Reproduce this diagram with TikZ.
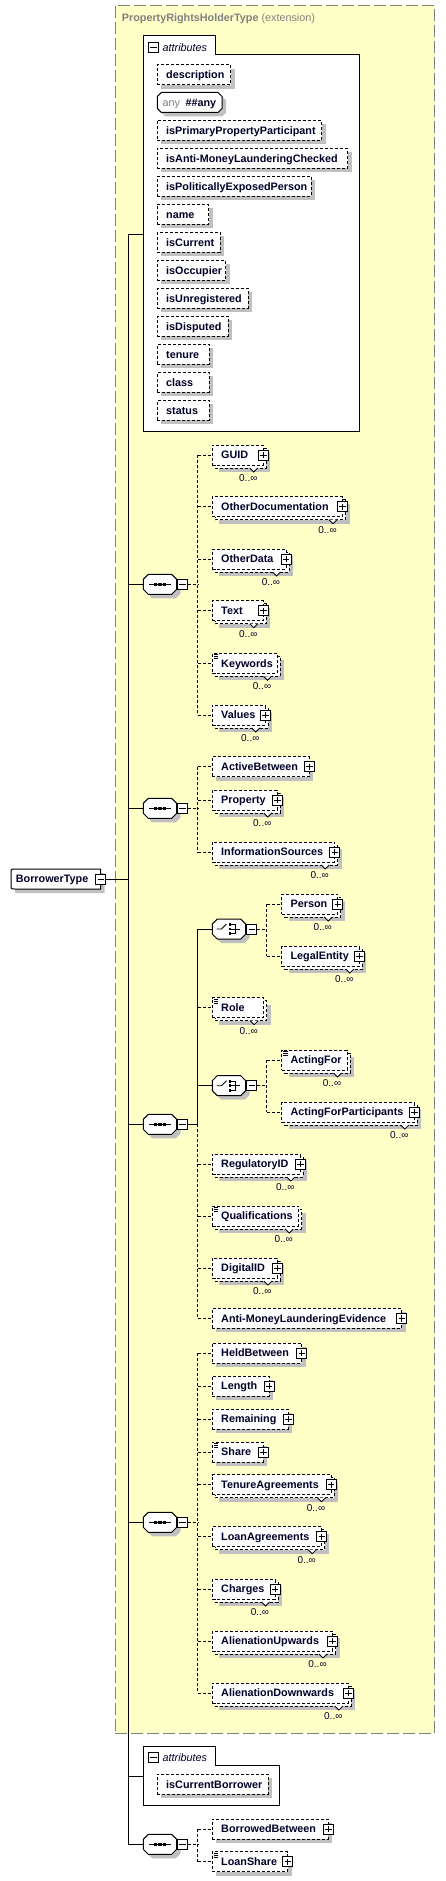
\documentclass[tikz,border=0pt]{standalone}
\usepackage{fontspec}
\setmainfont{Liberation Sans}
\usetikzlibrary{calc}
\definecolor{yel}{RGB}{255,255,200}
\definecolor{shad}{RGB}{192,192,192}
\definecolor{ttl}{RGB}{128,128,128}
\definecolor{nav}{RGB}{0,0,40}
\tikzset{
  ln/.style={line width=1pt,draw=black},
  dsh/.style={dash pattern=on 3pt off 2pt},
  dconn/.style={ln,dsh},
  ebx/.style={ln,dsh,fill=white,anchor=west,minimum height=20pt,inner sep=0pt,outer sep=0pt},
  lbl/.style={font=\fontsize{10.8}{12}\selectfont\bfseries,text=nav,inner sep=0pt,anchor=base west},
  multl/.style={font=\fontsize{10}{12}\selectfont,text=nav,inner sep=0pt,anchor=base},
  pmb/.style={draw,line width=0.8pt,fill=white,minimum size=10pt,inner sep=0pt,outer sep=0pt},
  hook/.style={inner sep=0pt,outer sep=0pt,minimum width=33.4pt,minimum height=20pt},
  ybox/.style={draw=ttl,line width=1pt,dash pattern=on 12pt off 4pt,fill=yel,inner sep=0pt,outer sep=0pt,anchor=north west},
}
\newcommand{\champ}[6]{\path[#1] ({#3+#2},{#4}) -- ({#5-#2},{#4}) -- ({#5},{#4+#2}) -- ({#5},{#6-#2}) -- ({#5-#2},{#6}) -- ({#3+#2},{#6}) -- ({#3},{#6-#2}) -- ({#3},{#4+#2}) -- cycle;}
\newcommand{\pbox}[2]{%
  \draw[line width=0.8pt,fill=white] ({#1-5},{#2-5}) rectangle ({#1+5},{#2+5});
  \draw[line width=0.8pt] ({#1-3.2},{#2}) -- ({#1+3.2},{#2}) ({#1},{#2-3.2}) -- ({#1},{#2+3.2});}
\newcommand{\mnbox}[3]{%
  \node[pmb] (#1) at ({#2},{#3}) {};
  \draw[line width=0.8pt] ({#2-3.2},{#3}) -- ({#2+3.2},{#3});}
\newcommand{\eboxs}[5]{%
  \pgfmathsetmacro\ew{#4-#2}%
  \fill[shad] ({#2+4},{#3-6}) rectangle ({#4+4},{#3+14});
  \node[ebx,minimum width=\ew pt] (#1) at (#2,#3) {};
  \node[lbl] at ({#2+8.7},{#3+3.9}) {#5};}
\newcommand{\eboxm}[5]{%
  \pgfmathsetmacro\ew{#4-#2}%
  \fill[shad] ({#2+7},{#3-3}) rectangle ({#4+7},{#3+17});
  \draw[ln,dsh,fill=white] ({#2+3},{#3-7}) rectangle ({#4+3},{#3+13});
  \draw[line width=0.8pt,fill=white] ({#4-13.5},{#3+13}) -- ({#4-9.5},{#3+17}) -- ({#4-5.5},{#3+13});
  \node[ebx,minimum width=\ew pt] (#1) at (#2,#3) {};
  \node[lbl] at ({#2+8.7},{#3+3.9}) {#5};
  \node[multl] at ({#4-15},{#3+26.5}) {0..∞};}
\newcommand{\eicon}[2]{\draw[line width=0.7pt] ({#1+1.5},{#2-8.5}) -- ({#1+6},{#2-8.5}) ({#1+1.5},{#2-6.5}) -- ({#1+6},{#2-6.5}) ({#1+1.5},{#2-4.5}) -- ({#1+6},{#2-4.5});}
\newcommand{\seqsym}[3]{%
  \champ{fill=shad}{5}{#2-12.7}{#3-6}{#2+20.7}{#3+14}
  \champ{ln,fill=white}{5}{#2-16.7}{#3-10}{#2+16.7}{#3+10}
  \node[hook] (#1) at (#2,#3) {};
  \draw[line width=0.8pt] ({#2-11},{#3}) -- ({#2+11},{#3});
  \foreach \dx in {-4.5,0,4.5} {\fill ({#2+\dx-1.6},{#3-1.6}) rectangle ({#2+\dx+1.6},{#3+1.6});}
  \mnbox{#1m}{#2+22.5}{#3}}
\newcommand{\chsym}[3]{%
  \champ{fill=shad}{5}{#2-12.7}{#3-6}{#2+20.7}{#3+14}
  \champ{ln,fill=white}{5}{#2-16.7}{#3-10}{#2+16.7}{#3+10}
  \node[hook] (#1) at (#2,#3) {};
  \draw[line width=0.8pt] ({#2-12.5},{#3}) -- ({#2-7.5},{#3}) -- ({#2-2.5},{#3-5});
  \foreach \dy in {-4.5,0,4.5} {\fill ({#2-0.5},{#3+\dy-1.4}) rectangle ({#2+2.3},{#3+\dy+1.4});}
  \draw[line width=0.8pt] ({#2+2.3},{#3-4.5}) -- ({#2+6.5},{#3-4.5}) -- ({#2+6.5},{#3+4.5}) -- ({#2+2.3},{#3+4.5}) ({#2+2.3},{#3}) -- ({#2+10.5},{#3});
  \mnbox{#1m}{#2+22.7}{#3}}
\newcommand{\attrhead}[2]{%
  \mnbox{#1}{153.3}{#2}
  \node[anchor=west,inner sep=0pt,font=\fontsize{10.8}{12}\selectfont\itshape,text=nav] at (162.5,{#2}) {attributes};}
\begin{document}
\begin{tikzpicture}[x=1pt,y=-1pt]
\useasboundingbox (0,0) rectangle (445,1881);
\fill[white] (0,0) rectangle (445,1881);
% extension box
\node[ybox,minimum width=319.4pt,minimum height=1728pt] (ext) at (115.3,5.3) {};
\node[anchor=base west,inner sep=0pt,text=ttl,font=\fontsize{10.8}{12}\selectfont] (title) at (121.7,22) {\textbf{PropertyRightsHolderType} (extension)};
% attributes 1
\draw[ln,fill=white] (143.3,36) -- (215,36) -- (215,55) -- (359.3,55) -- (359.3,431) -- (143.3,431) -- cycle;
\coordinate (a1) at (143.3,234.3);
\attrhead{a1m}{47.5}
\eboxs{description}{157.3}{75}{230.7}{description}
\champ{fill=shad}{4}{161.3}{96.5}{226}{116.5}
\champ{ln,fill=white}{4}{157.3}{92.5}{222}{112.5}
\node[inner sep=0pt,minimum width=64.7pt,minimum height=20pt,anchor=west] (any) at (157.3,102.5) {};
\node[lbl,font=\fontsize{10.8}{12}\selectfont,text=ttl] at (162.3,106.4) {any};
\node[lbl] at (185.3,106.4) {\#\#any};
\eboxs{isprim}{157.3}{130.3}{321.7}{isPrimaryPropertyParticipant}
\eboxs{isanti}{157.3}{158.3}{347.7}{isAnti-MoneyLaunderingChecked}
\eboxs{ispol}{157.3}{186.3}{311}{isPoliticallyExposedPerson}
\eboxs{name}{157.3}{214.3}{208.7}{name}
\eboxs{iscur}{157.3}{242.3}{220}{isCurrent}
\eboxs{isocc}{157.3}{270.3}{225.7}{isOccupier}
\eboxs{isunr}{157.3}{298.3}{248}{isUnregistered}
\eboxs{isdis}{157.3}{326.3}{228}{isDisputed}
\eboxs{tenure}{157.3}{354.3}{209}{tenure}
\eboxs{class}{157.3}{382.3}{209}{class}
\eboxs{status}{157.3}{410.3}{209}{status}
% root
\path[fill=shad] (104.7,873) -- (19,873) .. controls (15,873) .. (15,877) -- (15,889) .. controls (15,893) .. (19,893) -- (104.7,893) -- cycle;
\path[ln,fill=white] (100.7,869) -- (15,869) .. controls (11,869) .. (11,873) -- (11,885) .. controls (11,889) .. (15,889) -- (100.7,889) -- cycle;
\node[inner sep=0pt,minimum width=89.7pt,minimum height=20pt,anchor=west] (bt) at (11,879) {};
\node[lbl] at (15.7,882.9) {BorrowerType};
\mnbox{btm}{100.7}{879}
% sequence 1
\seqsym{s1}{160}{584.3}
\eboxm{guid}{212.3}{455}{263.3}{GUID}\pbox{263.3}{455}
\eboxm{otherdoc}{212.3}{506.7}{342.5}{OtherDocumentation}\pbox{342.5}{506.7}
\eboxm{otherdata}{212.3}{559}{286}{OtherData}\pbox{286}{559}
\eboxm{text}{212.3}{610.7}{263.3}{Text}\pbox{263.3}{610.7}
\eboxm{keywords}{212.3}{663.3}{277}{Keywords}\eicon{212.3}{663.3}
\eboxm{values}{212.3}{715}{265.3}{Values}\pbox{265.3}{715}
% sequence 2
\seqsym{s2}{160}{808.3}
\eboxs{activebetween}{212.3}{766.7}{309.3}{ActiveBetween}\pbox{309.3}{766.7}
\eboxm{property}{212.3}{800}{277.3}{Property}\pbox{277.3}{800}
\eboxm{infosrc}{212.3}{852}{334.7}{InformationSources}\pbox{334.7}{852}
% sequence 3
\seqsym{s3}{160}{1124.3}
\chsym{c1}{229}{929}
\eboxm{person}{281.7}{904}{337.7}{Person}\pbox{337.7}{904}
\eboxm{legal}{281.7}{956}{359.3}{LegalEntity}\pbox{359.3}{956}
\eboxm{role}{212.3}{1007.7}{263.7}{Role}\eicon{212.3}{1007.7}
\chsym{c2}{229}{1085.7}
\eboxm{actingfor}{281.7}{1060}{347}{ActingFor}\eicon{281.7}{1060}
\eboxm{actingforp}{281.7}{1112}{414.3}{ActingForParticipants}\pbox{414.3}{1112}
\eboxm{regid}{212.3}{1164}{300.3}{RegulatoryID}\pbox{300.3}{1164}
\eboxm{qual}{212.3}{1216}{298.7}{Qualifications}\eicon{212.3}{1216}
\eboxm{digid}{212.3}{1268}{277.3}{DigitalID}\pbox{277.3}{1268}
\eboxs{amle}{212.3}{1318.3}{401.7}{Anti-MoneyLaunderingEvidence}\pbox{401.7}{1318.3}
% sequence 4
\seqsym{s4}{160}{1522.3}
\eboxs{heldbetween}{212.3}{1353}{301.7}{HeldBetween}\pbox{301.7}{1353}
\eboxs{length}{212.3}{1386}{269.2}{Length}\pbox{269.2}{1386}
\eboxs{remaining}{212.3}{1419}{288.3}{Remaining}\pbox{288.3}{1419}
\eboxs{share}{212.3}{1452}{263.3}{Share}\eicon{212.3}{1452}\pbox{263.3}{1452}
\eboxm{tenureag}{212.3}{1484.7}{331}{TenureAgreements}\pbox{331}{1484.7}
\eboxm{loanag}{212.3}{1536.7}{321.7}{LoanAgreements}\pbox{321.7}{1536.7}
\eboxm{charges}{212.3}{1589}{275}{Charges}\pbox{275}{1589}
\eboxm{alup}{212.3}{1641}{332.5}{AlienationUpwards}\pbox{332.5}{1641}
\eboxm{aldown}{212.3}{1693}{348.3}{AlienationDownwards}\pbox{348.3}{1693}
% attributes 2
\draw[ln,fill=white] (143.3,1746.3) -- (215,1746.3) -- (215,1765) -- (279.3,1765) -- (279.3,1805.3) -- (143.3,1805.3) -- cycle;
\coordinate (a2) at (143.3,1776.7);
\attrhead{a2m}{1757.8}
\eboxs{iscurb}{157.3}{1784.3}{268.3}{isCurrentBorrower}
% sequence 5
\seqsym{s5}{160}{1844.3}
\eboxs{borrowedbetween}{212.3}{1829}{328.3}{BorrowedBetween}\pbox{328.3}{1829}
\eboxs{loanshare}{212.3}{1861.7}{287.7}{LoanShare}\eicon{212.3}{1861.7}\pbox{287.7}{1861.7}
% trunk
\coordinate (tk) at (128.3,879);
\draw[ln] (btm.east) -- (tk);
\draw[ln] (a1) -- (tk |- a1) -- (tk |- s5.west) -- (s5.west);
\foreach \n in {s1,s2,s3,s4} {\draw[ln] (tk |- \n.west) -- (\n.west);}
\draw[ln] (tk |- a2) -- (a2);
% seq 1 connectors
\coordinate (j1) at (197.7,584.3);
\draw[dconn] (s1m.east) -- (j1);
\draw[dconn] (j1 |- guid.west) -- (j1 |- values.west);
\foreach \n in {guid,otherdoc,otherdata,text,keywords,values} {\draw[dconn] (j1 |- \n.west) -- (\n.west);}
% seq 2 connectors
\coordinate (j2) at (197.7,808.3);
\draw[dconn] (s2m.east) -- (j2);
\draw[dconn] (j2 |- activebetween.west) -- (j2 |- infosrc.west);
\foreach \n in {activebetween,property,infosrc} {\draw[dconn] (j2 |- \n.west) -- (\n.west);}
% seq 3 connectors
\coordinate (j3) at (197.7,1124.3);
\draw[ln] (s3m.east) -- (j3);
\draw[ln] (j3 |- c1.west) -- (j3);
\draw[dconn] (j3) -- (j3 |- amle.west);
\draw[ln] (j3 |- c1.west) -- (c1.west);
\draw[ln] (j3 |- c2.west) -- (c2.west);
\foreach \n in {role,regid,qual,digid,amle} {\draw[dconn] (j3 |- \n.west) -- (\n.west);}
\coordinate (k1) at (266.7,929);
\draw[dconn] (c1m.east) -- (k1);
\draw[dconn] (k1 |- person.west) -- (k1 |- legal.west);
\foreach \n in {person,legal} {\draw[dconn] (k1 |- \n.west) -- (\n.west);}
\coordinate (k2) at (266.7,1085.7);
\draw[dconn] (c2m.east) -- (k2);
\draw[dconn] (k2 |- actingfor.west) -- (k2 |- actingforp.west);
\foreach \n in {actingfor,actingforp} {\draw[dconn] (k2 |- \n.west) -- (\n.west);}
% seq 4 connectors
\coordinate (j4) at (197.7,1522.3);
\draw[dconn] (s4m.east) -- (j4);
\draw[dconn] (j4 |- heldbetween.west) -- (j4 |- aldown.west);
\foreach \n in {heldbetween,length,remaining,share,tenureag,loanag,charges,alup,aldown} {\draw[dconn] (j4 |- \n.west) -- (\n.west);}
% seq 5 connectors
\coordinate (j5) at (197.7,1844.3);
\draw[dconn] (s5m.east) -- (j5);
\draw[dconn] (j5 |- borrowedbetween.west) -- (j5 |- loanshare.west);
\foreach \n in {borrowedbetween,loanshare} {\draw[dconn] (j5 |- \n.west) -- (\n.west);}
\end{tikzpicture}
\end{document}
